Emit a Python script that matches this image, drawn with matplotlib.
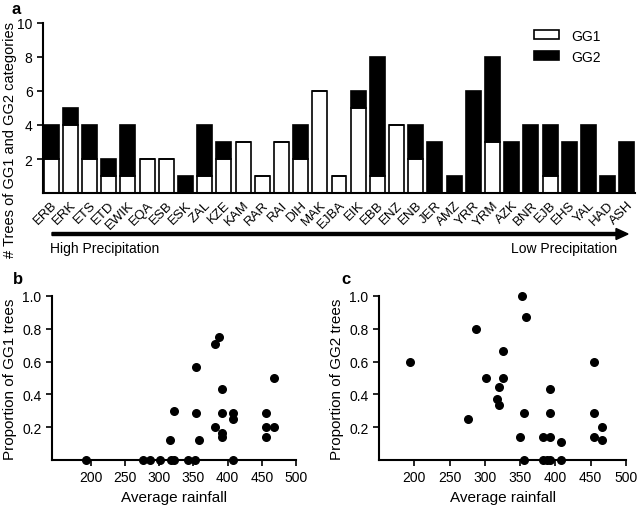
import numpy as np
import matplotlib
matplotlib.use("Agg")
import matplotlib.pyplot as plt

plt.rcParams['font.family'] = ['Liberation Sans', 'DejaVu Sans']

# panel a
sites = ["ERB", "ERK", "ETS", "ETD", "EWIK", "EQA", "ESB", "ESK", "ZAL", "KZE",
         "KAM", "RAR", "RAI", "DIH", "MAK", "EJBA", "EIK", "EBB", "ENZ", "ENB",
         "JER", "AMZ", "YRR", "YRM", "AZK", "BNR", "EJB", "EHS", "YAL", "HAD", "ASH"]
gg1 = [2, 4, 2, 1, 1, 2, 2, 0, 1, 2, 3, 1, 3, 2, 6, 1, 5, 1, 4, 2,
       0, 0, 0, 3, 0, 0, 1, 0, 0, 0, 0]
gg2 = [2, 1, 2, 1, 3, 0, 0, 1, 3, 1, 0, 0, 0, 2, 0, 0, 1, 7, 0, 2,
       3, 1, 6, 5, 3, 4, 3, 3, 4, 1, 3]

# panel b: rainfall vs proportion GG1
rain_b = [193, 276, 287, 301, 315, 317, 322, 322, 342, 352, 354, 354, 358,
          382, 382, 388, 391, 391, 391, 391, 408, 408, 408, 456, 456, 456, 468, 468]
prop_gg1 = [0, 0, 0, 0, 0.125, 0, 0, 0.3, 0, 0, 0.57, 0.286, 0.125,
            0.71, 0.2, 0.75, 0.43, 0.286, 0.167, 0.143, 0.286, 0.25, 0, 0.286, 0.2, 0.143, 0.5, 0.2]

# panel c: rainfall vs proportion GG2
rain_c = [194, 276, 287, 301, 317, 320, 320, 325, 325, 350, 353, 359, 356, 356,
          382, 382, 388, 392, 392, 392, 392, 408, 408, 455, 455, 455, 466, 466]
prop_gg2 = [0.6, 0.25, 0.8, 0.5, 0.375, 0.444, 0.333, 0.667, 0.5, 0.143, 1.0, 0.875, 0.286, 0,
            0.143, 0, 0, 0.143, 0.286, 0.43, 0, 0.11, 0, 0.6, 0.286, 0.143, 0.2, 0.125]

W, H = 638, 506
fig = plt.figure(figsize=(W / 100, H / 100), dpi=100)

def box(l, t, r, b):
    return [l / W, 1 - b / H, (r - l) / W, (b - t) / H]

# ---- a ----
ax = fig.add_axes(box(43, 24, 635, 194))
x = np.arange(len(sites))
ax.bar(x, gg1, width=0.78, color='white', edgecolor='black', linewidth=1.2, label='GG1')
ax.bar(x, gg2, width=0.78, bottom=gg1, color='black', edgecolor='black', linewidth=1.2, label='GG2')
ax.set_xlim(-0.42, len(sites) - 0.58)
ax.set_ylim(0, 10)
ax.set_yticks([2, 4, 6, 8, 10])
ax.set_xticks(x)
ax.set_xticklabels(sites, rotation=45, ha='right', rotation_mode='anchor', fontsize=9.5)
ax.tick_params(axis='x', length=0, pad=4)
ax.tick_params(axis='y', labelsize=10, width=1.2, length=4)
for s in ['top', 'right']:
    ax.spines[s].set_visible(False)
for s in ['left', 'bottom']:
    ax.spines[s].set_linewidth(1.5)
ax.set_ylabel('# Trees of GG1 and GG2 categories', fontsize=10.5)
# label sits lower than the axes centre, as in the figure
ax.yaxis.set_label_coords((17 - 43) / 592, (194 - 140) / 170)
leg = ax.legend(loc='upper left', bbox_to_anchor=(478 / 592, 1.04), frameon=False, fontsize=10,
                handlelength=1.8, handleheight=0.6, labelspacing=0.5, handletextpad=0.9)

fig.text(12 / W, 1 - 9 / H, 'a', fontsize=12, fontweight='bold', va='center')

# precipitation arrow
ya = 1 - 235 / H
fig.add_artist(matplotlib.patches.FancyArrow(52 / W, ya, (616 - 52) / W, 0, width=3.0 / H,
                                             head_width=11 / H, head_length=12 / W,
                                             length_includes_head=False, color='black',
                                             transform=fig.transFigure))
fig.text(50 / W, 1 - 249 / H, 'High Precipitation', fontsize=10, va='center')
fig.text(617 / W, 1 - 249 / H, 'Low Precipitation', fontsize=10, va='center', ha='right')

# ---- b, c ----
def scatter_panel(rect, xs, ys, ylabel, xmin, letter, lx):
    a = fig.add_axes(rect)
    a.scatter(xs, ys, s=30, color='black', clip_on=False, zorder=3)
    a.set_xlim(xmin, 500)
    a.set_ylim(0, 1.0)
    a.set_xticks([200, 250, 300, 350, 400, 450, 500])
    a.set_yticks([0.2, 0.4, 0.6, 0.8, 1.0])
    a.set_yticklabels(['0.2', '0.4', '0.6', '0.8', '1.0'])
    a.tick_params(labelsize=10, width=1.2, length=4)
    for s in ['top', 'right']:
        a.spines[s].set_visible(False)
    for s in ['left', 'bottom']:
        a.spines[s].set_linewidth(1.5)
    a.set_xlabel('Average rainfall', fontsize=11)
    a.set_ylabel(ylabel, fontsize=11)
    fig.text(lx / W, 1 - 280 / H, letter, fontsize=12, fontweight='bold', va='center')
    return a

scatter_panel(box(52, 297, 296, 461), rain_b, prop_gg1, 'Proportion of GG1 trees', 143, 'b', 13)
scatter_panel(box(379, 297, 626, 461), rain_c, prop_gg2, 'Proportion of GG2 trees', 150, 'c', 341)

plt.savefig('out.png', dpi=100)
